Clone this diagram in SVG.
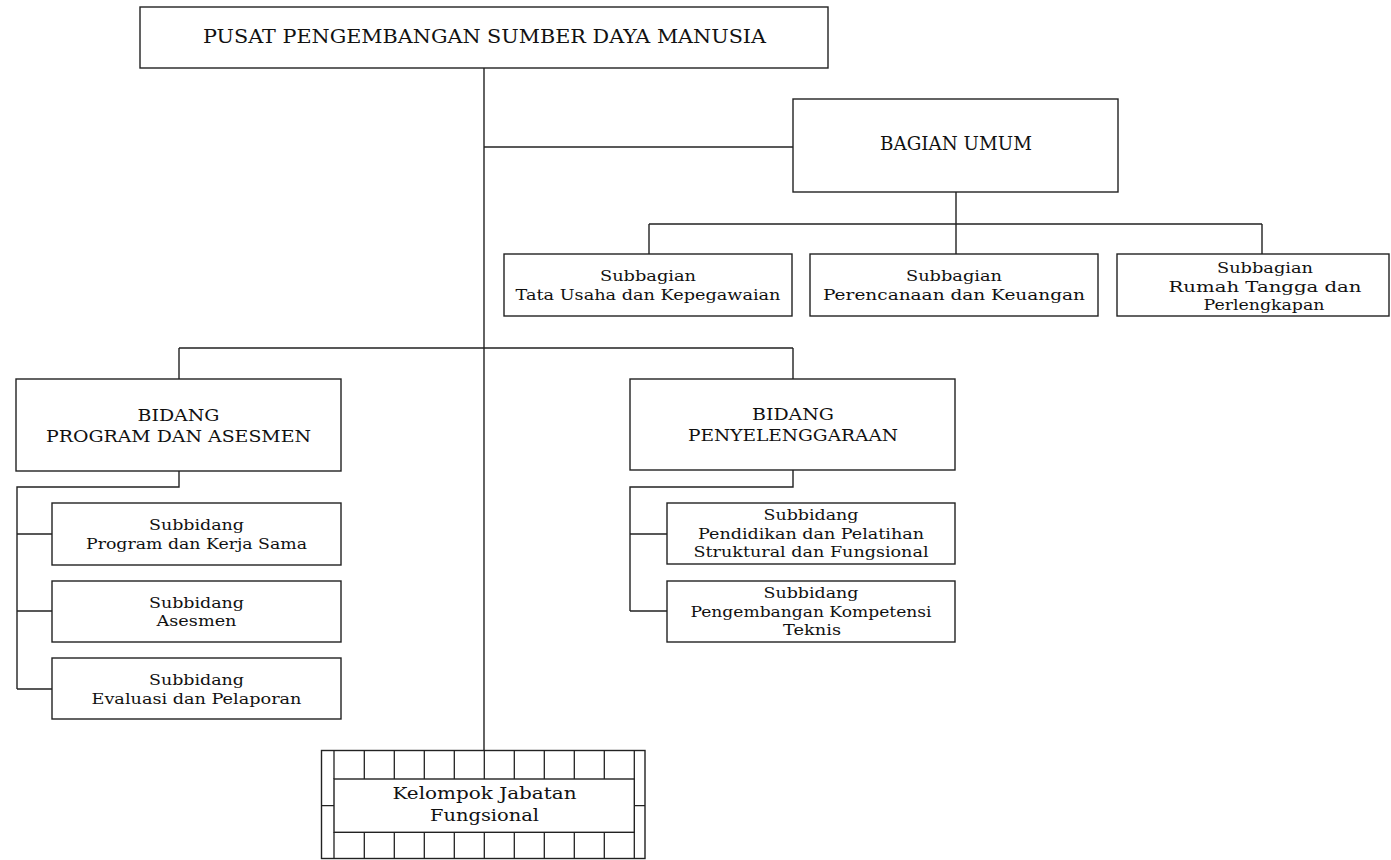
<svg xmlns="http://www.w3.org/2000/svg" width="1391" height="860" viewBox="0 0 1391 860">
<style>
rect.box{fill:#fff;stroke:#222;stroke-width:1.4}
.conn path{fill:none;stroke:#222;stroke-width:1.4}
.grid path{fill:none;stroke:#222;stroke-width:1.3}
text{font-family:"DejaVu Serif","Liberation Serif",serif;fill:#111;text-anchor:middle}
.big{font-size:19px}
.mid{font-size:16px}
.sm{font-size:15px}
</style>
<rect width="1391" height="860" fill="#fff"/>
<g class="conn" id="connectors">
<path d="M484 68V750"/>
<path d="M484 147H793"/>
<path d="M956 192V224M649 224H1262M649 224V254M956 224V254M1262 224V254"/>
<path d="M179 348H793M179 348V379M793 348V379"/>
<path d="M179 471V487H17V689M17 534H52M17 611H52M17 689H52"/>
<path d="M793 470V487H630V611M630 534H667M630 611H667"/>
</g>
<g id="pusat">
<rect class="box" x="140" y="7" width="688" height="61"/>
<text class="big" x="484.5" y="43" textLength="563" lengthAdjust="spacingAndGlyphs">PUSAT PENGEMBANGAN SUMBER DAYA MANUSIA</text>
</g>
<g id="bagian-umum">
<rect class="box" x="793" y="99" width="325" height="93"/>
<text class="big" x="956" y="150" textLength="152" lengthAdjust="spacingAndGlyphs">BAGIAN UMUM</text>
</g>
<g id="subbagian-tu">
<rect class="box" x="504" y="254" width="288" height="62"/>
<text class="sm" x="648" y="281" textLength="96" lengthAdjust="spacingAndGlyphs">Subbagian</text>
<text class="sm" x="648" y="299.5" textLength="265" lengthAdjust="spacingAndGlyphs">Tata Usaha dan Kepegawaian</text>
</g>
<g id="subbagian-pk">
<rect class="box" x="810" y="254" width="288" height="62"/>
<text class="sm" x="954" y="281" textLength="96" lengthAdjust="spacingAndGlyphs">Subbagian</text>
<text class="sm" x="954" y="299.5" textLength="262" lengthAdjust="spacingAndGlyphs">Perencanaan dan Keuangan</text>
</g>
<g id="subbagian-rt">
<rect class="box" x="1117" y="254" width="272" height="62"/>
<text class="sm" x="1265" y="273" textLength="96" lengthAdjust="spacingAndGlyphs">Subbagian</text>
<text class="sm" x="1265" y="291.5" textLength="193" lengthAdjust="spacingAndGlyphs">Rumah Tangga dan</text>
<text class="sm" x="1264" y="310" textLength="121" lengthAdjust="spacingAndGlyphs">Perlengkapan</text>
</g>
<g id="bidang-program">
<rect class="box" x="16" y="379" width="325" height="92"/>
<text class="mid" x="178.5" y="421" textLength="82" lengthAdjust="spacingAndGlyphs">BIDANG</text>
<text class="mid" x="178.5" y="442" textLength="265" lengthAdjust="spacingAndGlyphs">PROGRAM DAN ASESMEN</text>
</g>
<g id="bidang-penyelenggaraan">
<rect class="box" x="630" y="379" width="325" height="91"/>
<text class="mid" x="793" y="420" textLength="82" lengthAdjust="spacingAndGlyphs">BIDANG</text>
<text class="mid" x="793" y="441" textLength="210" lengthAdjust="spacingAndGlyphs">PENYELENGGARAAN</text>
</g>
<g id="subbidang-program">
<rect class="box" x="52" y="503" width="289" height="62"/>
<text class="sm" x="196.5" y="530" textLength="95" lengthAdjust="spacingAndGlyphs">Subbidang</text>
<text class="sm" x="196.5" y="548.5" textLength="221" lengthAdjust="spacingAndGlyphs">Program dan Kerja Sama</text>
</g>
<g id="subbidang-asesmen">
<rect class="box" x="52" y="581" width="289" height="61"/>
<text class="sm" x="196.5" y="607.5" textLength="95" lengthAdjust="spacingAndGlyphs">Subbidang</text>
<text class="sm" x="196.5" y="626" textLength="80" lengthAdjust="spacingAndGlyphs">Asesmen</text>
</g>
<g id="subbidang-evaluasi">
<rect class="box" x="52" y="658" width="289" height="61"/>
<text class="sm" x="196.5" y="685" textLength="95" lengthAdjust="spacingAndGlyphs">Subbidang</text>
<text class="sm" x="196.5" y="703.5" textLength="210" lengthAdjust="spacingAndGlyphs">Evaluasi dan Pelaporan</text>
</g>
<g id="subbidang-diklat">
<rect class="box" x="667" y="503" width="288" height="61"/>
<text class="sm" x="811" y="520" textLength="95" lengthAdjust="spacingAndGlyphs">Subbidang</text>
<text class="sm" x="811" y="538.5" textLength="226" lengthAdjust="spacingAndGlyphs">Pendidikan dan Pelatihan</text>
<text class="sm" x="811" y="557" textLength="235" lengthAdjust="spacingAndGlyphs">Struktural dan Fungsional</text>
</g>
<g id="subbidang-kompetensi">
<rect class="box" x="667" y="581" width="288" height="61"/>
<text class="sm" x="811" y="598" textLength="95" lengthAdjust="spacingAndGlyphs">Subbidang</text>
<text class="sm" x="811" y="616.5" textLength="241" lengthAdjust="spacingAndGlyphs">Pengembangan Kompetensi</text>
<text class="sm" x="812" y="635" textLength="58" lengthAdjust="spacingAndGlyphs">Teknis</text>
</g>
<g id="kelompok-jabatan-fungsional">
<rect class="box" x="321.5" y="750.5" width="323.5" height="108"/>
<g class="grid">
<path d="M364.3 750.5V779M394.3 750.5V779M424.3 750.5V779M454.3 750.5V779M484.3 750.5V779M514.3 750.5V779M544.3 750.5V779M574.3 750.5V779M604.3 750.5V779"/>
<path d="M364.3 832.3V858.5M394.3 832.3V858.5M424.3 832.3V858.5M454.3 832.3V858.5M484.3 832.3V858.5M514.3 832.3V858.5M544.3 832.3V858.5M574.3 832.3V858.5M604.3 832.3V858.5"/>
<path d="M334 750.5V779M634.3 750.5V779M334 832.3V858.5M634.3 832.3V858.5"/>
<path d="M321.5 805.7H334M634.3 805.7H645"/>
</g>
<rect class="box" x="334" y="779" width="300.3" height="53.3"/>
<text class="mid" x="484.5" y="799" textLength="184" lengthAdjust="spacingAndGlyphs">Kelompok Jabatan</text>
<text class="mid" x="484.5" y="821" textLength="109" lengthAdjust="spacingAndGlyphs">Fungsional</text>
</g>
</svg>
